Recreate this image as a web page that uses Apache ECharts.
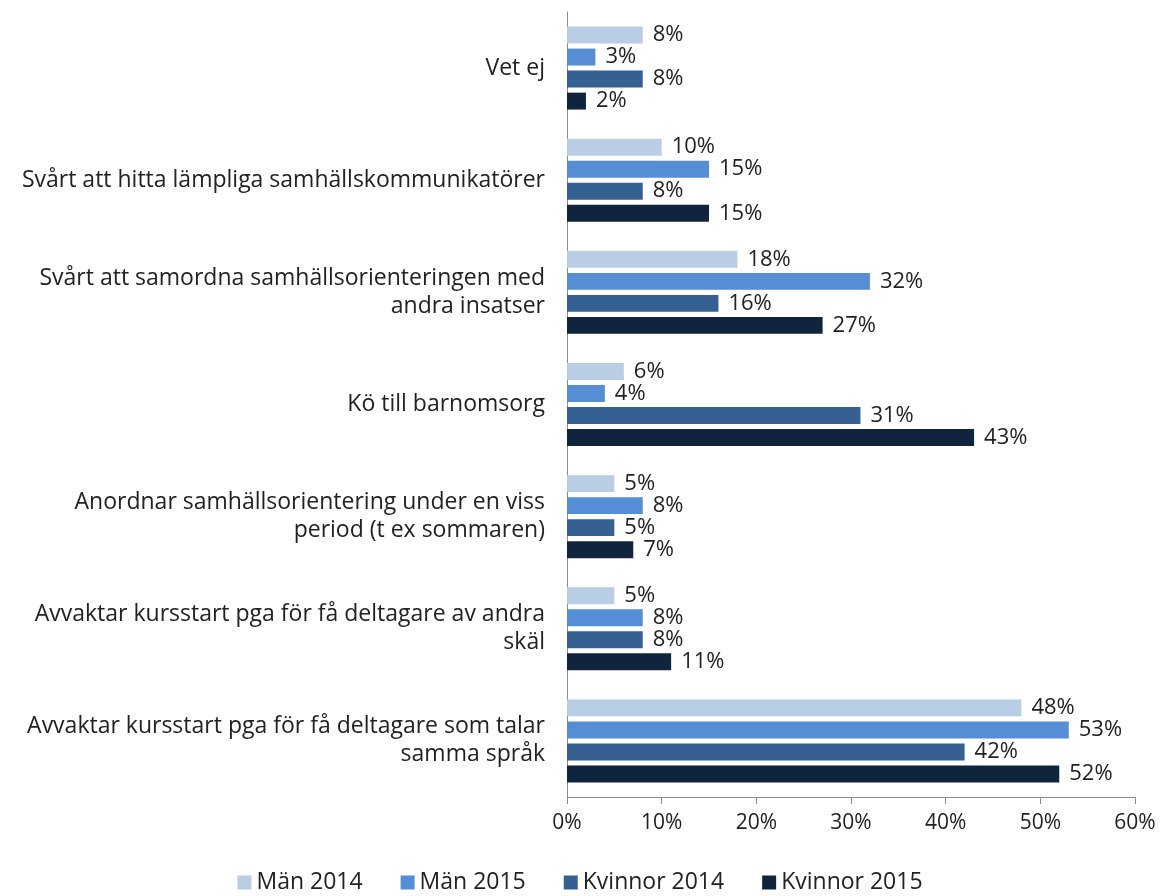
<!DOCTYPE html>
<html>
<head>
<meta charset="utf-8">
<script src="https://cdn.jsdelivr.net/npm/echarts@6/dist/echarts.min.js"></script>
<style>
  html, body { margin: 0; padding: 0; background: #fff; }
  #main { width: 1160px; height: 896px; }
</style>
</head>
<body>
<div id="main"></div>
<script>
// kategorier, uppifrån och ned
const categories = [
  'Vet ej',
  'Svårt att hitta lämpliga samhällskommunikatörer',
  'Svårt att samordna samhällsorienteringen med\nandra insatser',
  'Kö till barnomsorg',
  'Anordnar samhällsorientering under en viss\nperiod (t ex sommaren)',
  'Avvaktar kursstart pga för få deltagare av andra\nskäl',
  'Avvaktar kursstart pga för få deltagare som talar\nsamma språk'
];
const seriesNames = ['Män 2014', 'Män 2015', 'Kvinnor 2014', 'Kvinnor 2015'];
const man2014 = [8, 10, 18, 6, 5, 5, 48];
const man2015 = [3, 15, 32, 4, 8, 8, 53];
const kvinnor2014 = [8, 8, 16, 31, 5, 8, 42];
const kvinnor2015 = [2, 15, 27, 43, 7, 11, 52];
const xTicks = [0, 10, 20, 30, 40, 50, 60];

const colors = ['#b9cde5', '#558ed5', '#376092', '#10243e'];
const values = [man2014, man2015, kvinnor2014, kvinnor2015];
const font = '"Open Sans", sans-serif';

let myChart = echarts.init(document.getElementById('main'));
let option = {
  animation: false,
  textStyle: { fontFamily: font },
  legend: {
    bottom: -3,
    left: 'center',
    itemWidth: 14,
    itemHeight: 14,
    itemGap: 38,
    itemTextGap: 4,
    icon: 'rect',
    textStyle: { fontSize: 23, color: '#222', fontFamily: font },
    data: seriesNames
  },
  grid: { left: 567, right: 25, top: 12, bottom: 99 },
  xAxis: {
    type: 'value',
    min: 0,
    max: 60,
    interval: 10,
    splitLine: { show: false },
    axisLine: { show: true, lineStyle: { color: '#8c8c8c' } },
    axisTick: { show: true, length: 7, lineStyle: { color: '#8c8c8c' } },
    axisLabel: {
      margin: 16,
      fontSize: 21,
      color: '#222',
      formatter: v => xTicks.includes(v) ? v + '%' : ''
    }
  },
  yAxis: {
    type: 'category',
    inverse: true,
    data: categories,
    axisLine: { show: true, lineStyle: { color: '#8c8c8c' } },
    axisTick: { show: false },
    axisLabel: {
      margin: 22,
      fontSize: 23,
      lineHeight: 28,
      color: '#222',
      align: 'right'
    }
  },
  series: seriesNames.map((name, i) => ({
    name: name,
    type: 'bar',
    data: values[i],
    barGap: '30%',
    barCategoryGap: '26%',
    itemStyle: { color: colors[i] },
    label: {
      show: true,
      position: 'right',
      distance: 10,
      fontSize: 22,
      color: '#222',
      formatter: p => p.value + '%'
    }
  }))
};
option && myChart.setOption(option);
</script>
</body>
</html>
